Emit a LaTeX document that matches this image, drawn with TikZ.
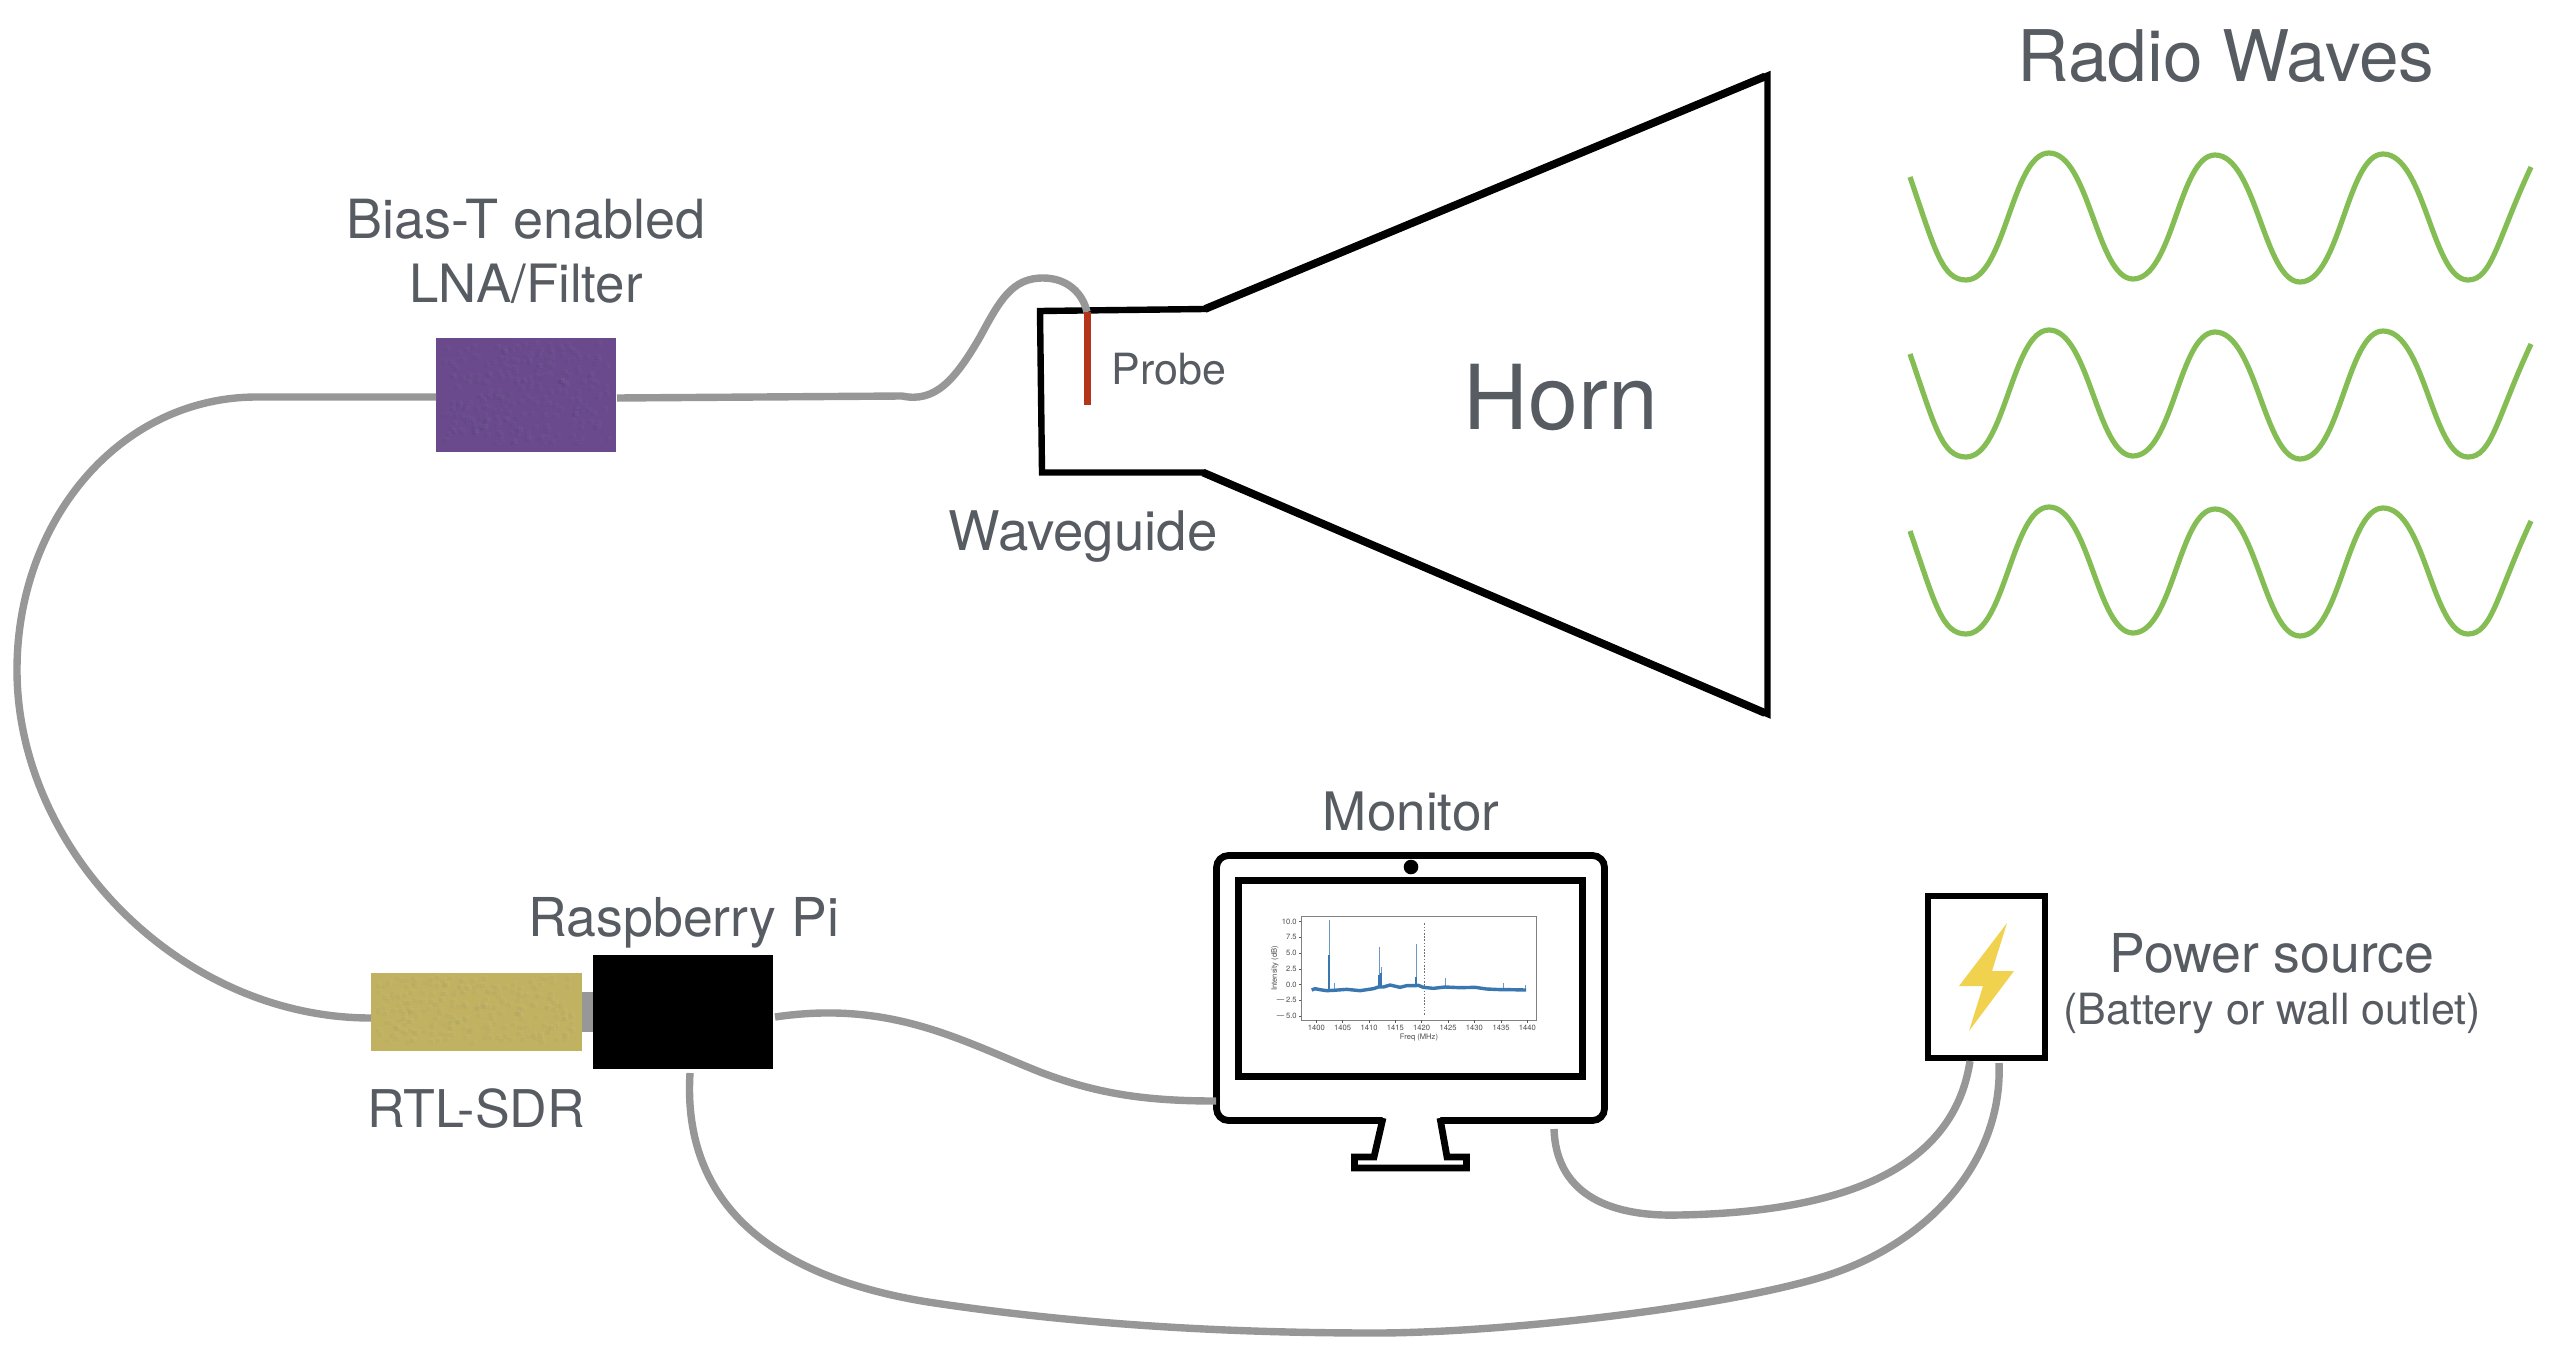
\documentclass[tikz,border=0pt]{standalone}
\usepackage{fontspec}
\setmainfont{TeX Gyre Heros}
\definecolor{txt}{HTML}{575B62}
\definecolor{cablegrey}{HTML}{979797}
\definecolor{lnapurple}{HTML}{6A4A8C}
\definecolor{sdryellow}{HTML}{C1B262}
\definecolor{probered}{HTML}{B5351A}
\definecolor{wavegreen}{HTML}{84BD54}
\definecolor{boltyellow}{HTML}{F0D24F}
\definecolor{plotblue}{HTML}{3A77B0}
\tikzset{
  lbl/.style={anchor=base,inner sep=0pt,text=txt,font=\fontsize{#1}{#1}\selectfont},
  cable/.style={draw=cablegrey,line width=3.7pt,line cap=butt},
  wavy/.style={draw=wavegreen,line width=2.6pt},
  solidbox/.style={inner sep=0pt,outer sep=0pt},
  blackline/.style={draw=black,line width=3.4pt},
  tick/.style={draw=black!65,line width=0.25pt},
  ticklbl/.style={inner sep=0pt,text=black!70,font=\fontsize{3.8}{3.8}\selectfont},
}
\begin{document}
\begin{tikzpicture}[x=0.5pt,y=-0.5pt]
\useasboundingbox (0,0) rectangle (2568,1370);

% radio waves
\foreach \dy in {0,177,354}{
\draw[wavy,shift={(0,\dy)}] (1910,177)
  .. controls (1935,250) and (1942,280) .. (1966,280)
  .. controls (2005,280) and (2012,153) .. (2049,153)
  .. controls (2089,153) and (2097,279) .. (2133,279)
  .. controls (2173,279) and (2179,155) .. (2215,155)
  .. controls (2256,155) and (2264,282) .. (2300,282)
  .. controls (2340,282) and (2347,154) .. (2383,154)
  .. controls (2425,154) and (2432,280) .. (2468,280)
  .. controls (2492,280) and (2497,240) .. (2531,167);
}

% horn
\draw[blackline,line width=3.2pt,line join=miter] (1040,311) -- (1205,309) -- (1767.5,75.5) -- (1767.5,714) -- (1203,472.5) -- (1042,472.5) -- cycle;
\draw[blackline,line width=3.9pt] (1205,309) -- (1765,76.5);
\draw[blackline,line width=3.9pt] (1203,472.5) -- (1765,713);

% boxes
\node[solidbox,fill=lnapurple,minimum width=90pt,minimum height=57pt] (lna) at (526,395) {};
\node[solidbox,fill=sdryellow,minimum width=105.5pt,minimum height=39pt] (sdr) at (476.5,1012) {};
\pgfmathsetseed{7}
\foreach \i in {1,...,260}{
  \pgfmathsetmacro{\ax}{440+rnd*165}
  \pgfmathsetmacro{\ay}{342+rnd*100}
  \pgfmathsetmacro{\bx}{375+rnd*195}
  \pgfmathsetmacro{\by}{976+rnd*65}
  \fill[black,opacity=0.018] (\ax,\ay) rectangle ++(5,4);
  \fill[white,opacity=0.018] (\ax+3,\ay-2) rectangle ++(4,5);
  \fill[black,opacity=0.015] (\bx,\by) rectangle ++(5,4);
  \fill[white,opacity=0.02] (\bx+3,\by-2) rectangle ++(4,5);
}
\node[solidbox,fill=black,minimum width=90pt,minimum height=57pt] (pi) at (683,1012) {};
\node[draw=black,line width=3pt,fill=white,inner sep=0pt,minimum width=58.5pt,minimum height=81pt] (power) at (1986.5,977) {};
\node[blackline,fill=white,inner sep=0pt,rounded corners=6pt,minimum width=194pt,minimum height=132.5pt] (monitor) at (1410.5,988) {};
\node[blackline,fill=white,inner sep=0pt,minimum width=172pt,minimum height=98pt] (screen) at (1410.5,978.5) {};
\node[fill=black,circle,inner sep=0pt,minimum size=7.3pt] (camera) at (1411,867) {};

% monitor stand
\fill[white] (1383,1116) -- (1374,1157) -- (1447,1157) -- (1440,1116) -- cycle;
\draw[blackline,line join=miter] (1383,1118) -- (1374,1157) -- (1354.5,1157) -- (1354.5,1168) -- (1466.5,1168) -- (1466.5,1157) -- (1447,1157) -- (1440,1118);

% plot on the screen
\begin{scope}[shift={(1200,840)},x=0.16667pt,y=-0.16667pt]
  \draw[draw=black!50,line width=0.4pt] (304,228) rectangle (1010,541);
  \foreach \xx/\xv in {349/1400,428/1405,507/1410,586/1415,665/1420,744/1425,823/1430,903/1435,982/1440}{
    \draw[tick] (\xx,541) -- (\xx,548);
    \node[ticklbl,anchor=base] (xt\xv) at (\xx,572) {\xv};
  }
  \foreach \yy/\yv in {245/10.0,292/7.5,340/5.0,387/2.5,434/0.0,481/$-$2.5,528/$-$5.0}{
    \draw[tick] (304,\yy) -- (297,\yy);
    \node[ticklbl,anchor=east] at (291,\yy) {\yv};
  }
  \node[ticklbl,rotate=90] (ylabel) at (225,385) {Intensity (dB)};
  \node[ticklbl,anchor=base] (xlabel) at (657,598) {Freq (MHz)};
  \draw[draw=black!55,line width=0.45pt,dash pattern=on 0.8pt off 0.8pt] (672,250) -- (672,528);
  \draw[draw=plotblue!75,line width=0.8pt]
    (388,450) -- (388,240)
    (538,440) -- (538,322)
    (544,440) -- (544,380)
    (649,436) -- (649,312)
    (403,450) -- (403,430);
  \draw[draw=plotblue!75,line width=0.5pt]
    (735,440) -- (735,415)
    (911,448) -- (911,430)
    (977,450) -- (977,435);
  \draw[draw=plotblue,line width=1.1pt] (387,450) -- (387,345) (538,440) -- (538,405) (544,440) -- (544,400) (649,436) -- (649,410);
  \draw[draw=plotblue,line width=1.7pt,line join=round] (335,450) -- (345,446) -- (360,449) -- (380,452) -- (400,451) -- (440,448) -- (480,452) -- (520,446) -- (535,441) -- (550,441) -- (570,435) -- (600,442) -- (620,437) -- (645,437) -- (655,436) -- (670,442) -- (700,445) -- (735,441) -- (780,443) -- (825,442) -- (860,447) -- (905,449) -- (930,449) -- (978,450);
\end{scope}

% bolt
\fill[boltyellow] (2007,923) -- (1992,971) -- (2014,971) -- (1969,1031) -- (1983,986) -- (1959,986) -- cycle;

% free ends of the cables
\coordinate (lnaW) at (436,397);
\coordinate (lnaE) at (617,398);
\coordinate (sdrW) at (371,1018);
\coordinate (sdrE) at (582,1012);
\coordinate (piW)  at (593,1012);
\coordinate (piE)  at (775,1017);
\coordinate (piS)  at (690,1073);
\coordinate (monW) at (1216,1101);
\coordinate (monS) at (1554,1129);
\coordinate (powA) at (1970,1061);
\coordinate (powB) at (1999,1063);
\coordinate (probeTop) at (1087,312);
\coordinate (probeEnd) at (1087,405);

% cables
\draw[cable] (lnaW) -- (257,397) .. controls (120,397) and (17,520) .. (17,670) .. controls (17,850) and (180,1018) .. (sdrW);
\draw[cable] (lnaE) -- (902,396) .. controls (935,403) and (955,380) .. (980,337) .. controls (1000,300) and (1012,278) .. (1043,278) .. controls (1068,278) and (1083,294) .. (probeTop);
\draw[cable,line width=20pt] (sdrE) -- (piW);
\draw[cable] (piE) .. controls (890,1000) and (960,1040) .. (1040,1072) .. controls (1100,1095) and (1150,1101) .. (monW);
\draw[cable] (monS) .. controls (1556,1190) and (1603,1217) .. (1679,1215) .. controls (1860,1212) and (1955,1160) .. (powA);
\draw[cable] (piS) .. controls (684,1170) and (730,1270) .. (928,1302) .. controls (1080,1325) and (1230,1333) .. (1375,1333) .. controls (1500,1333) and (1720,1308) .. (1822,1277) .. controls (1930,1244) and (2003,1160) .. (powB);
\draw[draw=probered,line width=3.5pt] (probeTop) -- (probeEnd);

% labels
\node[lbl=35.6] (radio) at (2226,82) {Radio Waves};
\node[lbl=44.8] (horn) at (1561,429) {Horn};
\node[lbl=27] (bias) at (526,238) {Bias-T enabled};
\node[lbl=26.4] (lnalabel) at (526,302) {LNA/Filter};
\node[lbl=21.5] (probe) at (1169,384) {Probe};
\node[lbl=27.3] (wg) at (1083,550) {Waveguide};
\node[lbl=26.8] (rpi) at (684,936) {Raspberry Pi};
\node[lbl=26] (rtl) at (476,1127) {RTL-SDR};
\node[lbl=26.5] (mon) at (1411,830) {Monitor};
\node[lbl=26.8] (pwr) at (2272,972) {Power source};
\node[lbl=21.5] (batt) at (2272,1024) {(Battery or wall outlet)};
\end{tikzpicture}
\end{document}
